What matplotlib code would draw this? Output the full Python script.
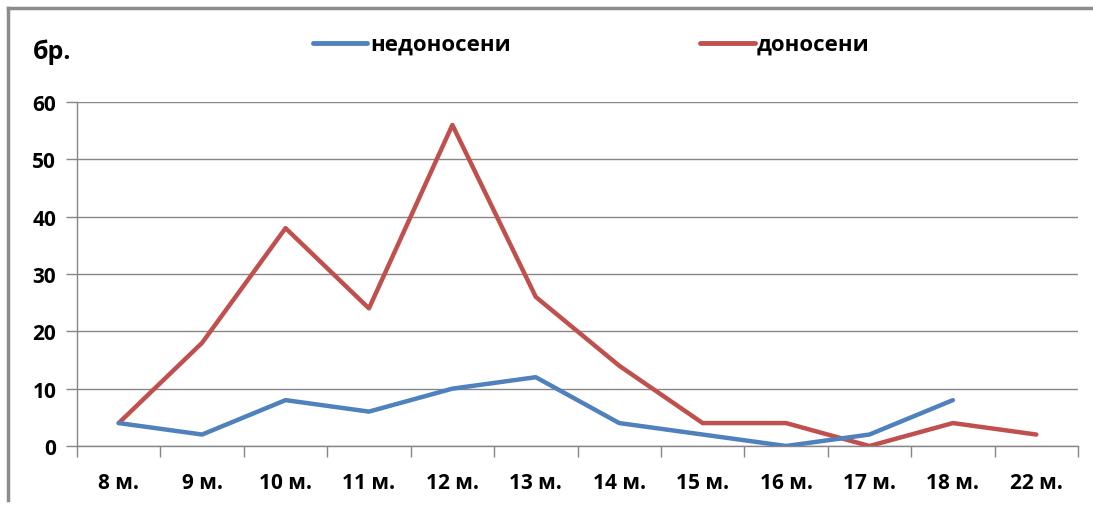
import matplotlib
matplotlib.use("Agg")
import matplotlib.pyplot as plt
import numpy as np
from matplotlib.lines import Line2D

plt.rcParams['font.family'] = ['Open Sans', 'DejaVu Sans']

categories = ["8 м.", "9 м.", "10 м.", "11 м.", "12 м.", "13 м.", "14 м.",
              "15 м.", "16 м.", "17 м.", "18 м.", "22 м."]
preterm = [4, 2, 8, 6, 10, 12, 4, 2, 0, 2, 8, np.nan]
full_term = [4, 18, 38, 24, 56, 26, 14, 4, 4, 0, 4, 2]
series_names = ["недоносени", "доносени"]
y_ticks = [0, 10, 20, 30, 40, 50, 60]

blue = "#4F81BD"
red = "#C0504D"
grid_c = "#868686"

fig = plt.figure(figsize=(10.93, 5.06), dpi=100)
ax = fig.add_axes([77 / 1093, 1 - 447 / 506, (1078 - 77) / 1093, (447 - 103) / 506])

x = np.arange(len(categories))
ax.plot(x, full_term, color=red, lw=3.2, solid_joinstyle="round", solid_capstyle="round", zorder=3)
ax.plot(x, preterm, color=blue, lw=3.2, solid_joinstyle="round", solid_capstyle="round", zorder=4)

ax.set_xlim(-0.5, len(categories) - 0.5)
ax.set_ylim(0, 60)
ax.set_yticks(y_ticks)
ax.set_yticklabels([str(v) for v in y_ticks], fontsize=15, fontweight="bold")
ax.set_xticks(x)
ax.set_xticklabels(categories, fontsize=15, fontweight="bold")
ax.tick_params(axis="x", length=0, pad=19)
ax.set_xticks(np.arange(-0.5, len(categories) + 0.5, 1), minor=True)
ax.tick_params(axis="x", which="minor", length=8, color=grid_c, width=1)
ax.tick_params(axis="y", length=8, color=grid_c, width=1, pad=7)

ax.yaxis.grid(True, color=grid_c, lw=1)
ax.set_axisbelow(True)
for s in ["top", "right"]:
    ax.spines[s].set_visible(False)
for s in ["left", "bottom"]:
    ax.spines[s].set_color(grid_c)
    ax.spines[s].set_linewidth(1)

# Unit label
fig.text(33 / 1093, 1 - 52 / 506, "бр.", fontsize=18, fontweight="bold", va="center", ha="left")

# Legend drawn by hand at the top
for (x0, x1, tx), name, col in zip([(313, 367, 370), (700, 755, 757)], series_names, [blue, red]):
    fig.add_artist(Line2D([x0 / 1093, x1 / 1093], [1 - 44 / 506, 1 - 44 / 506],
                          color=col, lw=3.5, solid_capstyle="round", transform=fig.transFigure))
    fig.text(tx / 1093, 1 - 45 / 506, name, fontsize=16, fontweight="bold", va="center", ha="left")

# Outer frame (top and left edges)
fig.add_artist(Line2D([8 / 1093, 1], [1 - 9 / 506, 1 - 9 / 506], color="#8c8c8c", lw=2.5,
                      transform=fig.transFigure))
fig.add_artist(Line2D([8 / 1093, 8 / 1093], [1 - 9 / 506, 0.01], color="#8c8c8c", lw=2.5,
                      transform=fig.transFigure))

fig.savefig("out.png", dpi=100)
